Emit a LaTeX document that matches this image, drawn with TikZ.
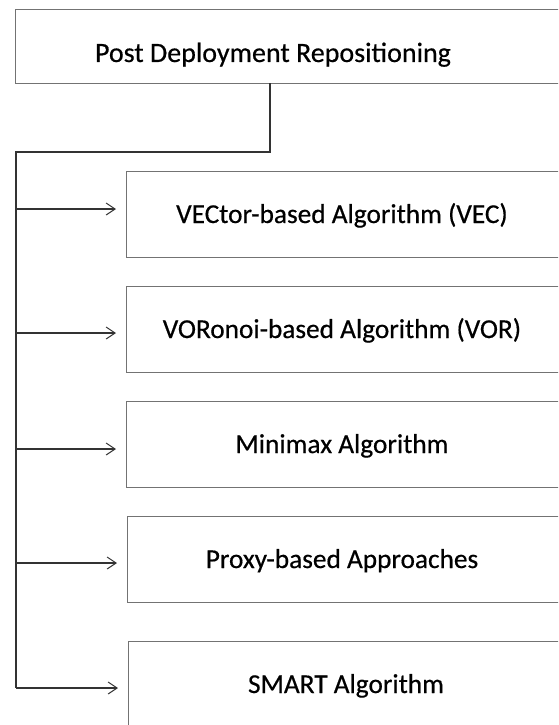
\documentclass[tikz,border=0pt]{standalone}
\usepackage{fontspec}
\setmainfont{Carlito}[UprightFeatures={FakeBold=0.5}]
\usetikzlibrary{arrows.meta}
\begin{document}
\begin{tikzpicture}[x=1pt,y=-1pt,
  boxnode/.style={draw=black!55, line width=1pt, minimum height=86pt, anchor=north west, inner sep=0pt},
  txt/.style={anchor=base, inner sep=0pt, font=\fontsize{27.3}{30}\selectfont},
  conn/.style={draw=black!80, line width=1.2pt},
  arr/.style={conn, -{Straight Barb[length=9pt,width=12pt,line width=1pt]}, shorten >=10pt}]
\useasboundingbox (0,0) rectangle (558,725);
\clip (0,0) rectangle (558,725);
% top box
\node[boxnode, minimum width=600pt, minimum height=74pt] (top) at (15,9) {};
\node[txt, font=\fontsize{28}{32}\selectfont] (toplbl) at (273,62) {Post Deployment Repositioning};
% child boxes
\node[boxnode, minimum width=500pt] (b1) at (126,171) {};
\node[boxnode, minimum width=500pt] (b2) at (126,286) {};
\node[boxnode, minimum width=500pt] (b3) at (126,401) {};
\node[boxnode, minimum width=500pt] (b4) at (127,516) {};
\node[boxnode, minimum width=500pt] (b5) at (128,641) {};
\node[txt] (l1) at (342,223) {VECtor-based Algorithm (VEC)};
\node[txt] (l2) at (342,338) {VORonoi-based Algorithm (VOR)};
\node[txt] (l3) at (342,453) {Minimax Algorithm};
\node[txt] (l4) at (342,568) {Proxy-based Approaches};
\node[txt] (l5) at (346,693) {SMART Algorithm};
% trunk
\coordinate (tdrop) at (270,83);
\coordinate (tcorner) at (270,152);
\coordinate (tleft) at (16,152);
\coordinate (t1) at (16,209);
\coordinate (t2) at (16,333);
\coordinate (t3) at (16,449);
\coordinate (t4) at (16,563);
\coordinate (t5) at (16,688);
\draw[conn] (tdrop) -- (tcorner) -- (tleft) -- (t5);
\draw[arr] (t1) -- (t1 -| b1.west);
\draw[arr] (t2) -- (t2 -| b2.west);
\draw[arr] (t3) -- (t3 -| b3.west);
\draw[arr] (t4) -- (t4 -| b4.west);
\draw[arr] (t5) -- (t5 -| b5.west);
\end{tikzpicture}
\end{document}
